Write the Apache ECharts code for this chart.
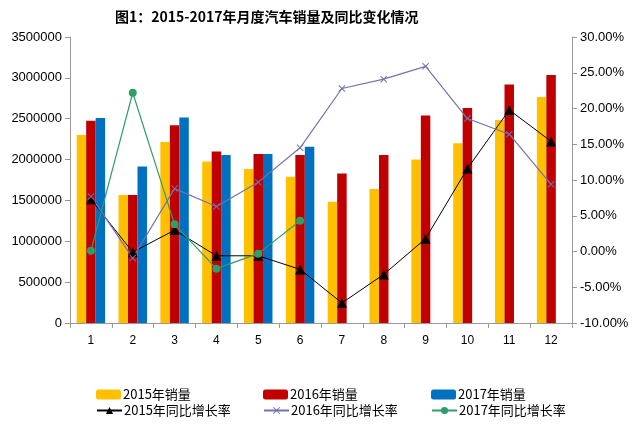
<!DOCTYPE html>
<html><head><meta charset="utf-8">
<script src="https://cdn.jsdelivr.net/npm/echarts@6/dist/echarts.min.js"></script>
<style>html,body{margin:0;padding:0;background:#fff}#c{width:640px;height:430px}</style>
</head><body><div id="c"></div>
<script>
const months = ['1','2','3','4','5','6','7','8','9','10','11','12'];
const sales2015 = [2300000,1566000,2215000,1975000,1885000,1790000,1485000,1640000,2000000,2200000,2485000,2765000];
const sales2016 = [2475000,1566000,2420000,2100000,2068000,2056000,1830000,2056000,2540000,2630000,2920000,3035000];
const sales2017 = [2510000,1915000,2515000,2056000,2068000,2158000,null,null,null,null,null,null];
const growth2015 = [7.3,-0.1,3.0,-0.6,-0.6,-2.5,-7.2,-3.2,1.8,11.6,19.8,15.4];
const growth2016 = [7.7,-0.9,8.8,6.3,9.7,14.5,22.8,24.1,25.9,18.6,16.4,9.4];
const growth2017 = [0.1,22.2,3.8,-2.4,-0.3,4.3,null,null,null,null,null,null];
const leftTicks = {min:0,max:3500000,interval:500000};
const rightTicks = {min:-10,max:30,interval:5};

const FONT = 'Liberation Sans';
const CJK = 'Noto Sans CJK SC';
const xSym = 'path://M1,0L5,4L9,0L10,1L6,5L10,9L9,10L5,6L1,10L0,9L4,5L0,1Z';
const C = {y:'#FFC000', r:'#C00000', b:'#0070C0', k:'#000000', p:'#7272AE', g:'#2E9E6A'};

function lg(name, left, top, isLine){
  return {data:[name], left:left, top:top, orient:'horizontal', itemWidth:25, itemHeight: isLine?9:10, itemGap:0,
    padding:0, textStyle:{fontFamily:CJK, fontSize:13, color:'#000', padding:[0,0,0,-3]}, selectedMode:false};
}

const chart = echarts.init(document.getElementById('c'));
chart.setOption({
  animation:false,
  title:{text:'图1：2015-2017年月度汽车销量及同比变化情况', left:110, top:5,
    textStyle:{fontFamily:CJK, fontSize:14, fontWeight:'bold', color:'#000'}},
  grid:{left:70, right:68, top:37, bottom:107},
  legend:[
    lg('2015年销量',96,388,false), lg('2016年销量',263,388,false), lg('2017年销量',431,388,false),
    lg('2015年同比增长率',96,404,true), lg('2016年同比增长率',263,404,true), lg('2017年同比增长率',431,404,true)
  ],
  xAxis:{type:'category', data:months,
    axisLine:{lineStyle:{color:'#999'}}, axisTick:{show:true, length:5, lineStyle:{color:'#999'}},
    axisLabel:{fontFamily:FONT, fontSize:12, color:'#000', margin:12}},
  yAxis:[
    {type:'value', min:leftTicks.min, max:leftTicks.max, interval:leftTicks.interval,
      axisLine:{show:true, lineStyle:{color:'#999'}}, axisTick:{show:true, length:5, lineStyle:{color:'#999'}},
      splitLine:{show:false}, axisLabel:{fontFamily:FONT, fontSize:13, color:'#000', margin:8,
        formatter:v=>String(v)}},
    {type:'value', min:rightTicks.min, max:rightTicks.max, interval:rightTicks.interval, position:'right',
      axisLine:{show:true, lineStyle:{color:'#999'}}, axisTick:{show:true, length:5, lineStyle:{color:'#999'}},
      splitLine:{show:false}, axisLabel:{fontFamily:FONT, fontSize:13, color:'#000', margin:8,
        formatter:v=>v.toFixed(2)+'%'}}
  ],
  series:[
    {name:'2015年销量', type:'bar', data:sales2015, barGap:'0%', barCategoryGap:'32%', itemStyle:{color:C.y}},
    {name:'2016年销量', type:'bar', data:sales2016, barGap:'0%', barCategoryGap:'32%', itemStyle:{color:C.r}},
    {name:'2017年销量', type:'bar', data:sales2017, barGap:'0%', barCategoryGap:'32%', itemStyle:{color:C.b}},
    {name:'2015年同比增长率', type:'line', yAxisIndex:1, data:growth2015, symbol:'triangle', symbolSize:10,
      lineStyle:{color:C.k, width:1}, itemStyle:{color:C.k}},
    {name:'2016年同比增长率', type:'line', yAxisIndex:1, data:growth2016, symbol:xSym, symbolSize:7,
      lineStyle:{color:C.p, width:1.2}, itemStyle:{color:C.p}},
    {name:'2017年同比增长率', type:'line', yAxisIndex:1, data:growth2017, symbol:'circle', symbolSize:8,
      lineStyle:{color:C.g, width:1.2}, itemStyle:{color:C.g}}
  ]
});
</script></body></html>
